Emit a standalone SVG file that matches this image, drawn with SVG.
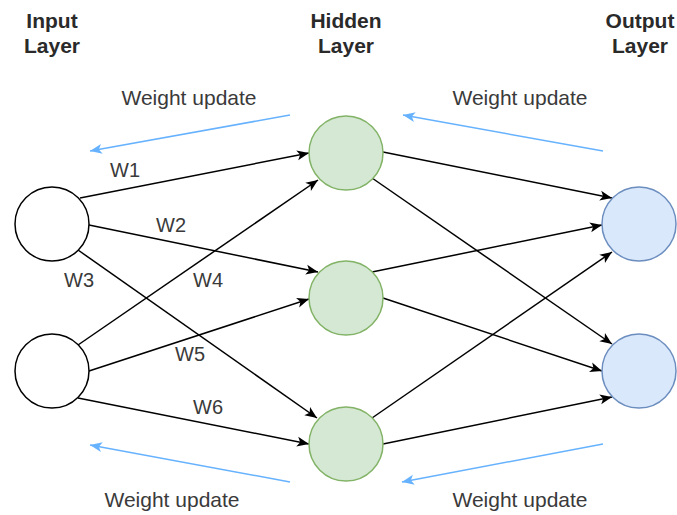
<svg xmlns="http://www.w3.org/2000/svg" width="677" height="515" viewBox="0 0 677 515">
  <style>
    .head { font-family: "Liberation Sans", Arial, sans-serif; font-size: 21px; font-weight: bold; fill: #2a2a2a; text-anchor: middle; }
    .note { font-family: "Liberation Sans", Arial, sans-serif; font-size: 21px; fill: #3a3a3a; text-anchor: middle; }
    .w { font-family: "Liberation Sans", Arial, sans-serif; font-size: 20px; fill: #3a3a3a; text-anchor: middle; }
    .in { fill: #ffffff; stroke: #000000; stroke-width: 1.5; }
    .hid { fill: #d5e8d4; stroke: #82b366; stroke-width: 1.5; }
    .out { fill: #dae8fc; stroke: #6c8ebf; stroke-width: 1.5; }
    .edge { fill: none; stroke: #000000; stroke-width: 1.5; marker-end: url(#arrowBlack); }
    .back { fill: none; stroke: #66b2ff; stroke-width: 1.5; marker-end: url(#arrowBlue); }
  </style>
  <defs>
    <marker id="arrowBlack" markerUnits="userSpaceOnUse" markerWidth="14" markerHeight="12" refX="13" refY="6" orient="auto">
      <path d="M1,1 L13,6 L1,11 L4,6 Z" fill="#000000"/>
    </marker>
    <marker id="arrowBlue" markerUnits="userSpaceOnUse" markerWidth="14" markerHeight="12" refX="13" refY="6" orient="auto">
      <path d="M1,1 L13,6 L1,11 L4,6 Z" fill="#66b2ff"/>
    </marker>
  </defs>

  <rect width="677" height="515" fill="#ffffff"/>

  <!-- layer headings -->
  <g id="heading-input"><text class="head" x="52" y="28">Input</text><text class="head" x="52" y="53">Layer</text></g>
  <g id="heading-hidden"><text class="head" x="346" y="28">Hidden</text><text class="head" x="346" y="53">Layer</text></g>
  <g id="heading-output"><text class="head" x="640" y="28">Output</text><text class="head" x="640" y="53">Layer</text></g>

  <!-- connectors -->
  <g id="connectors">
    <!-- input -> hidden -->
    <line class="edge" x1="80" y1="198" x2="309" y2="153"/>
    <line class="edge" x1="89" y1="225" x2="318" y2="272"/>
    <line class="edge" x1="78" y1="250" x2="317" y2="418"/>
    <line class="edge" x1="78" y1="345" x2="318" y2="180"/>
    <line class="edge" x1="89" y1="371" x2="309" y2="299"/>
    <line class="edge" x1="78" y1="398" x2="309" y2="444"/>
    <!-- hidden -> output -->
    <line class="edge" x1="383" y1="152" x2="612" y2="198"/>
    <line class="edge" x1="372" y1="178" x2="612" y2="344"/>
    <line class="edge" x1="372" y1="272" x2="602" y2="225"/>
    <line class="edge" x1="383" y1="298" x2="602" y2="371"/>
    <line class="edge" x1="372" y1="418" x2="612" y2="252"/>
    <line class="edge" x1="383" y1="444" x2="612" y2="397"/>
    <!-- backpropagation arrows -->
    <line class="back" x1="290" y1="115" x2="90" y2="151"/>
    <line class="back" x1="603" y1="151" x2="403" y2="115"/>
    <line class="back" x1="290" y1="482" x2="90" y2="445"/>
    <line class="back" x1="603" y1="444" x2="402" y2="482"/>
  </g>

  <!-- weight labels -->
  <g id="weights">
    <text class="w" x="125" y="177">W1</text>
    <text class="w" x="171" y="232">W2</text>
    <text class="w" x="79" y="287">W3</text>
    <text class="w" x="208" y="287">W4</text>
    <text class="w" x="190" y="361">W5</text>
    <text class="w" x="208" y="414">W6</text>
  </g>

  <!-- update notes -->
  <g id="notes">
    <text class="note" x="189" y="105">Weight update</text>
    <text class="note" x="520" y="105">Weight update</text>
    <text class="note" x="172" y="507">Weight update</text>
    <text class="note" x="520" y="507">Weight update</text>
  </g>

  <!-- input layer -->
  <g id="input-1"><circle class="in" cx="52" cy="224" r="37"/></g>
  <g id="input-2"><circle class="in" cx="52" cy="371" r="37"/></g>

  <!-- hidden layer -->
  <g id="hidden-1"><circle class="hid" cx="346" cy="153" r="37"/></g>
  <g id="hidden-2"><circle class="hid" cx="346" cy="298" r="37"/></g>
  <g id="hidden-3"><circle class="hid" cx="346" cy="444" r="37"/></g>

  <!-- output layer -->
  <g id="output-1"><circle class="out" cx="639" cy="224" r="37"/></g>
  <g id="output-2"><circle class="out" cx="639" cy="371" r="37"/></g>
</svg>
